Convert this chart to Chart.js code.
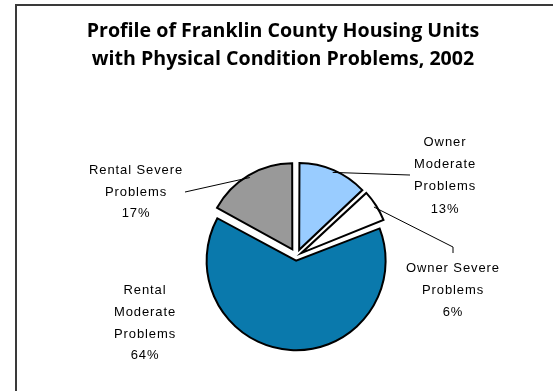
<!DOCTYPE html>
<html><head><meta charset="utf-8">
<script src="https://cdn.jsdelivr.net/npm/chart.js@4"></script>
<style>
html,body{margin:0;padding:0;background:#fff;overflow:hidden;width:553px;height:391px}
#wrap{position:relative;width:553px;height:391px;overflow:hidden}
#frame{position:absolute;left:15px;top:4px;width:700px;height:600px;border-left:2px solid #3a3a3a;border-top:2px solid #3a3a3a}
#c{position:absolute;left:0;top:0}
</style></head><body>
<div id="wrap"><div id="frame"></div><canvas id="c" width="553" height="391"></canvas></div>
<script>
// ---- data ----
const titleLines = ['Profile of Franklin County Housing Units', 'with Physical Condition Problems, 2002'];
const categories = ['Owner Moderate Problems', 'Owner Severe Problems', 'Rental Moderate Problems', 'Rental Severe Problems'];
const labelLines = [['Owner', 'Moderate', 'Problems'], ['Owner Severe', 'Problems'], ['Rental', 'Moderate', 'Problems'], ['Rental Severe', 'Problems']];
const percents = [13, 6, 64, 17];

// ---- style ----
const sliceColors = ['#99CCFF', '#FFFFFF', '#0A79AC', '#999999'];
const sliceOffsets = [28, 23, 18, 32];
const labelStyle = [
  {dx: 148.6, dy: -110.2, lh: 22.2, leader: [[113.6, -81.2]]},
  {dx: 156.6, dy: 16.1, lh: 22, leader: [[156.6, -9.2], [156.6, -3.2]]},
  {dx: -151.4, dy: 38.1, lh: 21.7, leader: null},
  {dx: -160.4, dy: -81.9, lh: 21.5, leader: [[-111.4, -64.2]]}
];
const leftSpacer = 26.8;

const spacer = {
  id: 'spacer',
  beforeInit(chart) {
    Chart.layouts.addBox(chart, {
      position: 'left', weight: 100, fullSize: false,
      options: {},
      left: 0, top: 0, right: 0, bottom: 0, width: 0, height: 0,
      isHorizontal() { return false; },
      update(maxWidth, maxHeight) { this.width = leftSpacer; this.height = maxHeight; },
      draw() {}
    });
  }
};

const sliceLabels = {
  id: 'sliceLabels',
  afterDatasetsDraw(chart) {
    const ctx = chart.ctx;
    const meta = chart.getDatasetMeta(0);
    ctx.save();
    ctx.font = '13px "Liberation Sans", Arial, sans-serif';
    ctx.letterSpacing = '0.9px';
    ctx.fillStyle = '#000';
    ctx.textAlign = 'center';
    ctx.textBaseline = 'alphabetic';
    meta.data.forEach((arc, i) => {
      const p = arc.getProps(['x', 'y', 'startAngle', 'endAngle', 'outerRadius', 'circumference'], true);
      const mid = (p.startAngle + p.endAngle) / 2;
      const o = (arc.options.offset || 0) / 4;
      const fix = 1 - Math.sin(Math.min(Math.PI, p.circumference));
      const t = o + o * fix;
      const vx = p.x + Math.cos(mid) * t, vy = p.y + Math.sin(mid) * t;
      const st = labelStyle[i];
      const lx = p.x + st.dx, ly = p.y + st.dy;
      const lines = labelLines[i].concat([percents[i] + '%']);
      lines.forEach((txt, k) => ctx.fillText(txt, lx, ly + k * st.lh));
      if (st.leader) {
        ctx.beginPath();
        ctx.lineWidth = 1;
        ctx.strokeStyle = '#000';
        const r = p.outerRadius * 0.97;
        ctx.moveTo(vx + Math.cos(mid) * r, vy + Math.sin(mid) * r);
        st.leader.forEach(([ax, ay]) => ctx.lineTo(p.x + ax, p.y + ay));
        ctx.stroke();
      }
    });
    ctx.restore();
  }
};

new Chart(document.getElementById('c'), {
  type: 'pie',
  data: {
    labels: categories,
    datasets: [{
      data: percents,
      backgroundColor: sliceColors,
      borderColor: '#000',
      borderWidth: 2,
      borderJoinStyle: 'miter',
      offset: sliceOffsets,
      hoverOffset: 0
    }]
  },
  options: {
    responsive: false,
    devicePixelRatio: 1,
    animation: false,
    radius: 85,
    events: [],
    layout: {padding: {left: 13, right: 0, top: 0, bottom: 12.1}},
    plugins: {
      legend: {display: false},
      tooltip: {enabled: false},
      title: {
        display: true,
        text: titleLines,
        color: '#000',
        font: {family: 'Open Sans', size: 19.6, weight: 'bold', lineHeight: 1.43},
        padding: {top: 17.5, bottom: 60}
      }
    }
  },
  plugins: [spacer, sliceLabels]
});
</script>
</body></html>
